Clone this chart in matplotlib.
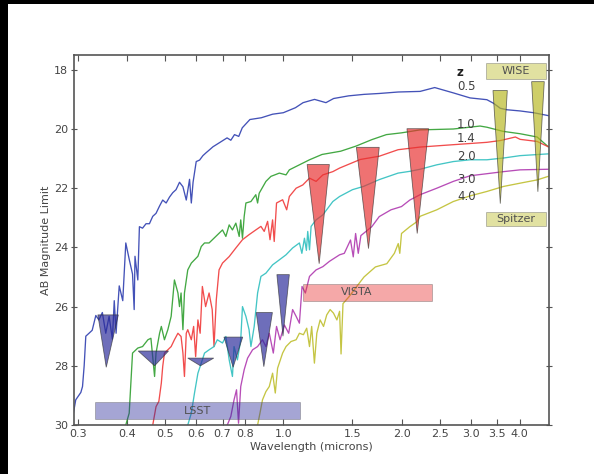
import matplotlib
matplotlib.use("Agg")
import matplotlib.pyplot as plt
from matplotlib.patches import Polygon, Rectangle

# ---------------- data ----------------
wl_z05 = [0.290, 0.296, 0.305, 0.308, 0.311, 0.314, 0.320, 0.326, 0.333, 0.339, 0.346, 0.353,
          0.360, 0.367, 0.371, 0.375, 0.382, 0.390, 0.397, 0.405, 0.413, 0.417, 0.419, 0.426,
          0.430, 0.438, 0.447, 0.456, 0.465, 0.474, 0.484, 0.493, 0.503, 0.513, 0.523, 0.533,
          0.544, 0.555, 0.566, 0.577, 0.583, 0.589, 0.600, 0.612, 0.624, 0.636, 0.649, 0.662,
          0.690, 0.719, 0.735, 0.751, 0.770, 0.786, 0.822, 0.879, 0.939, 1.000, 1.074, 1.123,
          1.201, 1.284, 1.343, 1.467, 1.605, 1.755, 1.962, 2.230, 2.430, 2.710, 2.990, 3.300,
          3.430, 3.570, 3.710, 4.010, 4.340, 4.740]
mag_z05 = [29.82, 29.15, 28.90, 28.70, 28.00, 27.00, 26.90, 26.80, 26.30, 26.45, 26.20, 26.90,
           26.33, 27.10, 25.80, 26.90, 25.30, 25.80, 23.85, 24.40, 24.90, 26.10, 24.30, 25.10,
           23.30, 23.35, 23.20, 23.20, 22.95, 22.85, 22.60, 22.40, 22.50, 22.30, 22.15, 22.05,
           21.80, 21.95, 22.40, 21.70, 22.50, 21.80, 21.10, 21.05, 20.90, 20.80, 20.70, 20.60,
           20.45, 20.30, 20.38, 20.19, 20.25, 19.96, 19.68, 19.62, 19.50, 19.45, 19.28, 19.11,
           19.00, 19.11, 18.97, 18.88, 18.83, 18.80, 18.75, 18.73, 18.60, 18.78, 18.95, 19.01,
           19.13, 19.30, 19.35, 19.39, 19.45, 19.55]

wl_z10 = [0.397, 0.405, 0.413, 0.426, 0.438, 0.452, 0.460, 0.470, 0.474, 0.484, 0.489, 0.498,
          0.508, 0.518, 0.528, 0.539, 0.544, 0.549, 0.555, 0.560, 0.571, 0.583, 0.594, 0.606,
          0.618, 0.630, 0.647, 0.673, 0.700, 0.714, 0.728, 0.742, 0.757, 0.772, 0.779, 0.787,
          0.795, 0.803, 0.827, 0.851, 0.860, 0.868, 0.903, 0.930, 0.977, 1.016, 1.036, 1.099,
          1.166, 1.255, 1.400, 1.530, 1.680, 1.830, 2.000, 2.230, 2.710, 3.170, 3.300, 3.630,
          4.010, 4.430, 4.730]
mag_z10 = [30.00, 29.60, 27.57, 27.40, 27.35, 27.12, 27.07, 28.36, 27.57, 26.90, 26.67, 27.12,
           26.78, 26.33, 25.10, 25.54, 26.00, 25.54, 26.78, 25.54, 24.76, 24.53, 24.42, 24.30,
           23.97, 23.85, 23.85, 23.63, 23.41, 23.63, 23.24, 23.41, 23.18, 23.63, 23.07, 23.69,
           22.95, 22.50, 22.45, 22.22, 22.50, 22.17, 21.77, 21.60, 21.49, 21.55, 21.38, 21.21,
           21.04, 20.86, 20.75, 20.58, 20.36, 20.19, 20.13, 20.03, 20.00, 19.90, 19.94, 20.08,
           20.16, 20.27, 20.60]

wl_z14 = [0.465, 0.474, 0.482, 0.489, 0.493, 0.498, 0.508, 0.518, 0.528, 0.539, 0.549, 0.555,
          0.560, 0.566, 0.571, 0.583, 0.591, 0.598, 0.606, 0.614, 0.622, 0.634, 0.647, 0.659,
          0.666, 0.675, 0.686, 0.700, 0.728, 0.757, 0.787, 0.818, 0.851, 0.877, 0.894, 0.912,
          0.925, 0.939, 0.948, 0.961, 0.996, 1.020, 1.036, 1.078, 1.121, 1.166, 1.212, 1.261,
          1.337, 1.391, 1.570, 1.755, 1.960, 2.230, 2.710, 3.300, 3.570, 3.900, 4.010, 4.430,
          4.730]
mag_z14 = [30.00, 29.38, 29.20, 28.58, 28.02, 27.57, 27.46, 27.35, 27.12, 26.90, 27.01, 27.57,
           28.36, 26.90, 26.78, 27.12, 26.67, 27.69, 26.45, 26.90, 25.32, 26.00, 25.54, 26.10,
           27.35, 25.77, 24.76, 24.53, 24.31, 24.02, 23.74, 23.57, 23.41, 23.29, 23.46, 23.12,
           23.74, 23.07, 23.80, 22.50, 22.39, 22.73, 22.28, 22.00, 21.89, 21.66, 21.77, 21.55,
           21.44, 21.32, 21.03, 20.92, 20.70, 20.61, 20.53, 20.45, 20.39, 20.27, 20.35, 20.42,
           20.60]

wl_z20 = [0.571, 0.583, 0.594, 0.606, 0.618, 0.630, 0.647, 0.666, 0.679, 0.700, 0.714, 0.728,
          0.742, 0.749, 0.764, 0.779, 0.787, 0.803, 0.818, 0.827, 0.843, 0.860, 0.877, 0.903,
          0.939, 0.977, 1.016, 1.056, 1.099, 1.115, 1.132, 1.145, 1.154, 1.166, 1.177, 1.212,
          1.261, 1.337, 1.391, 1.500, 1.600, 1.755, 1.960, 2.100, 2.230, 2.460, 2.710, 2.990,
          3.300, 3.640, 4.010, 4.730]
mag_z20 = [30.00, 29.60, 28.92, 28.25, 27.91, 27.57, 27.46, 27.35, 27.12, 27.23, 27.01, 27.80,
           28.36, 27.35, 27.80, 27.12, 26.00, 26.33, 26.78, 27.35, 26.67, 25.54, 24.98, 24.87,
           24.59, 24.42, 24.25, 24.02, 23.85, 24.20, 23.69, 24.10, 23.46, 24.08, 23.29, 23.07,
           22.90, 22.45, 22.28, 22.05, 21.94, 21.71, 21.49, 21.43, 21.36, 21.21, 21.10, 21.04,
           21.04, 20.98, 20.90, 20.84]

wl_z30 = [0.720, 0.735, 0.749, 0.760, 0.769, 0.779, 0.795, 0.811, 0.835, 0.860, 0.885, 0.903,
          0.921, 0.943, 0.961, 0.981, 1.006, 1.032, 1.056, 1.078, 1.099, 1.116, 1.138, 1.166,
          1.212, 1.261, 1.311, 1.391, 1.430, 1.483, 1.507, 1.528, 1.552, 1.576, 1.600, 1.680,
          1.755, 1.880, 2.000, 2.100, 2.230, 2.460, 2.710, 2.990, 3.300, 3.640, 4.010, 4.730]
mag_z30 = [30.00, 29.71, 29.15, 28.81, 29.94, 28.70, 28.13, 27.74, 27.46, 27.35, 27.12, 27.35,
           26.90, 27.57, 26.67, 27.12, 26.62, 26.90, 26.10, 26.33, 26.56, 25.32, 25.54, 24.98,
           24.76, 24.65, 24.47, 24.25, 24.20, 23.75, 24.32, 23.53, 24.20, 23.60, 23.53, 23.30,
           22.96, 22.73, 22.62, 22.40, 22.22, 22.00, 21.77, 21.58, 21.51, 21.44, 21.38, 21.36]

wl_z40 = [0.860, 0.872, 0.885, 0.903, 0.921, 0.939, 0.954, 0.967, 0.996, 1.016, 1.046, 1.078,
          1.099, 1.125, 1.147, 1.166, 1.181, 1.200, 1.217, 1.241, 1.266, 1.290, 1.316, 1.342,
          1.369, 1.391, 1.403, 1.419, 1.467, 1.534, 1.605, 1.716, 1.835, 1.918, 1.962, 1.980,
          2.000, 2.100, 2.190, 2.230, 2.460, 2.710, 2.990, 3.300, 3.640, 4.010, 4.430, 4.730]
mag_z40 = [30.00, 29.60, 29.15, 28.87, 28.70, 28.25, 28.92, 28.08, 27.57, 27.35, 27.18, 27.12,
           26.90, 26.95, 26.73, 27.35, 26.67, 27.91, 26.90, 26.45, 26.67, 26.28, 26.10, 26.22,
           26.45, 26.16, 27.60, 25.90, 25.68, 25.34, 25.00, 24.66, 24.55, 24.20, 23.87, 24.20,
           23.53, 23.30, 23.13, 22.95, 22.73, 22.45, 22.26, 22.11, 21.94, 21.83, 21.72, 21.60]

redshift_labels = ["0.5", "1.0", "1.4", "2.0", "3.0", "4.0"]
redshift_label_mag = [18.56, 19.86, 20.31, 20.93, 21.69, 22.28]

# triangles: (left wl, right wl, top mag, tip wl, tip mag)
lsst_lo = [0.337, 0.427, 0.571, 0.706, 0.853, 0.963]
lsst_hi = [0.380, 0.510, 0.665, 0.788, 0.938, 1.036]
lsst_top = [26.28, 27.50, 27.74, 27.03, 26.20, 24.92]
lsst_tip_wl = [0.354, 0.470, 0.615, 0.745, 0.892, 0.998]
lsst_tip_mag = [28.05, 28.00, 28.00, 28.05, 28.03, 27.00]

vista_lo = [1.150, 1.535, 2.065]
vista_hi = [1.310, 1.755, 2.345]
vista_top = [21.20, 20.62, 19.99]
vista_tip_wl = [1.234, 1.648, 2.193]
vista_tip_mag = [24.55, 24.04, 23.53]

wise_lo = [3.42, 4.29]
wise_hi = [3.72, 4.62]
wise_top = [18.70, 18.40]
wise_tip_wl = [3.57, 4.45]
wise_tip_mag = [22.52, 22.12]

# survey label boxes: name, wl range, mag range, text wl
box_names = ["LSST", "VISTA", "WISE", "Spitzer"]
box_wl_lo = [0.331, 1.123, 3.28, 3.28]
box_wl_hi = [1.103, 2.388, 4.66, 4.66]
box_mag_lo = [29.22, 25.23, 17.78, 22.81]
box_mag_hi = [29.81, 25.81, 18.31, 23.29]
box_text_wl = [0.604, 1.54, 3.91, 3.91]

xtick_vals = [0.3, 0.4, 0.5, 0.6, 0.7, 0.8, 1.0, 1.5, 2.0, 2.5, 3.0, 3.5, 4.0]
ytick_vals = [18, 20, 22, 24, 26, 28, 30]

# ---------------- style ----------------
line_colors = ['#2f3fb0', '#2f9f2f', '#f03a3a', '#2fbfbf', '#b03ab0', '#bfbf2f']
c_blue = '#2a2a9a'
c_red = '#e83030'
c_yel = '#b8b820'
txt = '#454545'

fig = plt.figure(figsize=(5.94, 4.74), dpi=100)
fig.patch.set_facecolor('white')
# black frame strips at top and left
fig.patches.append(Rectangle((0, 1 - 4 / 474), 1, 4 / 474, transform=fig.transFigure,
                             facecolor='black', edgecolor='none', zorder=0))
fig.patches.append(Rectangle((0, 0), 8 / 594, 1, transform=fig.transFigure,
                             facecolor='black', edgecolor='none', zorder=0))

ax = fig.add_axes([74 / 594, 1 - 425 / 474, (549 - 74) / 594, (425 - 55) / 474])
ax.set_xscale('log')

series = [(wl_z05, mag_z05), (wl_z10, mag_z10), (wl_z14, mag_z14),
          (wl_z20, mag_z20), (wl_z30, mag_z30), (wl_z40, mag_z40)]
for (w, m), c in zip(series, line_colors):
    ax.plot(w, m, color=c, lw=0.95, alpha=0.9, zorder=2)


def tris(lo, hi, top, tw, tm, color):
    for a, b, t, x, y in zip(lo, hi, top, tw, tm):
        ax.add_patch(Polygon([(a, t), (b, t), (x, y)], closed=True, facecolor=color,
                             alpha=0.68, edgecolor='#333333', lw=0.6, zorder=3))


tris(lsst_lo, lsst_hi, lsst_top, lsst_tip_wl, lsst_tip_mag, c_blue)
tris(vista_lo, vista_hi, vista_top, vista_tip_wl, vista_tip_mag, c_red)
tris(wise_lo, wise_hi, wise_top, wise_tip_wl, wise_tip_mag, c_yel)

box_cols = [c_blue, c_red, c_yel, c_yel]
for name, a, b, m0, m1, tw, c in zip(box_names, box_wl_lo, box_wl_hi, box_mag_lo,
                                      box_mag_hi, box_text_wl, box_cols):
    ax.add_patch(Rectangle((a, m0), b - a, m1 - m0, facecolor=c, alpha=0.42,
                           edgecolor='#555555', lw=0.6, zorder=4))
    ax.text(tw, (m0 + m1) / 2, name, ha='center', va='center', fontsize=8,
            color='#505050', zorder=5)

ax.text(2.82, 18.09, 'z', ha='center', va='center', fontsize=8.5, fontweight='bold',
        color='#202020', zorder=6)
for lab, m in zip(redshift_labels, redshift_label_mag):
    ax.text(2.77, m, lab, ha='left', va='center', fontsize=8.5, color='#404040', zorder=6)

ax.set_xlim(0.293, 4.75)
ax.set_ylim(30, 17.5)
ax.set_xticks(xtick_vals)
ax.set_xticklabels(['%.1f' % v for v in xtick_vals])
ax.xaxis.set_minor_locator(matplotlib.ticker.NullLocator())
ax.set_yticks(ytick_vals)
ax.set_yticklabels([str(v) for v in ytick_vals])
ax.tick_params(axis='both', which='major', labelsize=8, colors='#555555',
               labelcolor=txt, top=True, right=True, length=4, width=0.8)
ax.tick_params(axis='x', direction='in', pad=3)
ax.tick_params(axis='y', direction='inout', pad=2)
for s in ax.spines.values():
    s.set_color('#555555')
    s.set_linewidth(1.2)

ax.set_xlabel('Wavelength (microns)', fontsize=8, color=txt, labelpad=2)
ax.set_ylabel('AB Magnitude Limit', fontsize=8, color=txt, labelpad=2)

fig.savefig('out.png', dpi=100, facecolor=fig.get_facecolor())
